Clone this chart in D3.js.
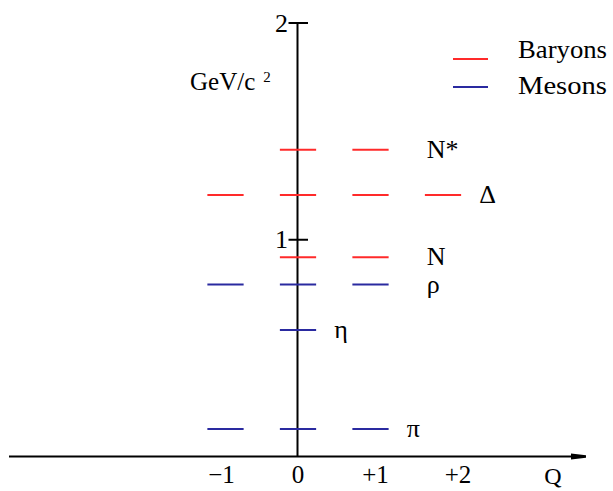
<!DOCTYPE html>
<html>
<head>
<meta charset="utf-8">
<script src="https://cdn.jsdelivr.net/npm/d3@7"></script>
<style>
  html, body { margin: 0; padding: 0; background: #fff; }
  svg { display: block; }
</style>
</head>
<body>
<svg id="chart" width="613" height="491"></svg>
<script>
// ---- data ----
const baryonStates  = ["N*", "Δ", "N"];
const baryonMasses  = [1.415, 1.207, 0.919];          // GeV/c^2
const baryonCharges = [[0, 1], [-1, 0, 1, 2], [0, 1]];

const mesonStates   = ["ρ", "η", "π"];
const mesonMasses   = [0.793, 0.584, 0.127];
const mesonCharges  = [[-1, 0, 1], [0], [-1, 0, 1]];

const yTickValues   = [1, 2];
const yTickLabels   = ["1", "2"];
const xTickValues   = [-1, 0, 1, 2];
const xTickLabels   = ["\u22121", "0", "+1", "+2"];

const legendNames   = ["Baryons", "Mesons"];

// ---- layout / style ----
const FONT = "'Liberation Serif', 'Times New Roman', Times, serif";
const colors = { Baryons: "#ff2a2a", Mesons: "#2a2aa0" };
const labelGap = { "N*": 38, "Δ": 18, "N": 38, "ρ": 38, "η": 18, "π": 18 };
const xLabelNudge = [-4, 0, 5, 15];

const svg = d3.select("#chart")
  .attr("font-family", FONT).attr("fill", "#000");

const x = d3.scaleLinear().domain([0, 1]).range([298, 370.5]);
const y = d3.scaleLinear().domain([0, 2]).range([456.5, 23]);
const halfW = 0.25;

// axes
svg.append("line").attr("x1", 9).attr("x2", 578).attr("y1", y(0)).attr("y2", y(0))
  .attr("stroke", "#000").attr("stroke-width", 2);
svg.append("path")
  .attr("d", `M571,${y(0) - 3}L586,${y(0) - 1.2}L586,${y(0) + 1.2}L571,${y(0) + 3}Z`)
  .attr("fill", "#000");
svg.append("line").attr("x1", x(0) - 0.5).attr("x2", x(0) - 0.5).attr("y1", y(2)).attr("y2", y(0))
  .attr("stroke", "#000").attr("stroke-width", 2);

// y ticks
const yt = svg.append("g");
yTickValues.forEach((v, i) => {
  yt.append("line").attr("x1", x(0) - 9.5).attr("x2", x(0) + 10)
    .attr("y1", y(v)).attr("y2", y(v)).attr("stroke", "#000").attr("stroke-width", 2);
  yt.append("text").attr("x", x(0) - 10).attr("y", y(v) + 8.5)
    .attr("font-family", FONT)
    .attr("text-anchor", "end").attr("font-size", 26).text(yTickLabels[i]);
});

// x tick labels
xTickValues.forEach((v, i) => {
  svg.append("text").attr("x", x(v) + xLabelNudge[i]).attr("y", 483)
    .attr("font-family", FONT)
    .attr("text-anchor", "middle").attr("font-size", 25).text(xTickLabels[i]);
});
svg.append("text").attr("x", 553).attr("y", 484).attr("text-anchor", "middle")
  .attr("font-family", FONT).attr("font-size", 24).text("Q");

// y axis title
const t = svg.append("text").attr("x", 190).attr("y", 90).attr("font-size", 25)
  .attr("font-family", FONT);
t.append("tspan").text("GeV/c");
t.append("tspan").attr("dx", 8).attr("dy", -8).attr("font-size", 15).text("2");

// levels
function drawFamily(states, masses, charges, color) {
  states.forEach((s, i) => {
    const m = masses[i];
    svg.append("g").selectAll("line").data(charges[i]).join("line")
      .attr("x1", q => x(q - halfW)).attr("x2", q => x(q + halfW))
      .attr("y1", y(m)).attr("y2", y(m))
      .attr("stroke", color).attr("stroke-width", 2);
    const maxQ = d3.max(charges[i]);
    svg.append("text").attr("x", x(maxQ + halfW) + labelGap[s]).attr("y", y(m) + 8)
      .attr("font-family", FONT)
      .attr("font-size", 26).text(s);
  });
}
drawFamily(baryonStates, baryonMasses, baryonCharges, colors.Baryons);
drawFamily(mesonStates, mesonMasses, mesonCharges, colors.Mesons);

// legend
const legendLineY = [59, 87];
const legendTextY = [58, 94];
legendNames.forEach((n, i) => {
  svg.append("line").attr("x1", 453).attr("x2", 488)
    .attr("y1", legendLineY[i]).attr("y2", legendLineY[i])
    .attr("stroke", colors[n]).attr("stroke-width", 2);
  svg.append("text").attr("x", 518).attr("y", legendTextY[i])
    .attr("font-family", FONT)
    .attr("font-size", 25).attr("textLength", 89).attr("lengthAdjust", "spacingAndGlyphs").text(n);
});
</script>
</body>
</html>
